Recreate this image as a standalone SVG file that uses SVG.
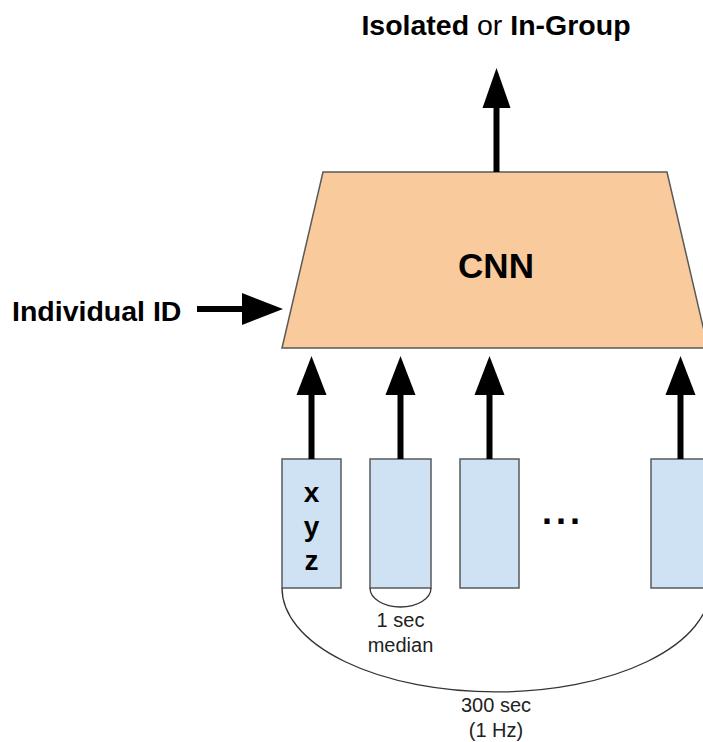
<svg xmlns="http://www.w3.org/2000/svg" width="703" height="742" viewBox="0 0 703 742">
<style>
  .t { font-family: "Liberation Sans", Arial, sans-serif; fill: #000; }
  .b { font-weight: bold; }
  .s { font-size: 20px; fill: #222; }
  .box { fill: #cfe2f3; stroke: #595959; stroke-width: 1.5; }
  .cnn { fill: #f9cb9c; stroke: #595959; stroke-width: 1.5; }
  .conn { stroke: #000; stroke-width: 6; fill: none; }
  .arc { stroke: #333; stroke-width: 1.3; fill: none; }
  .head { fill: #000; }
</style>
<rect width="703" height="742" fill="#fff"/>
<g id="output-label">
  <text class="t b" x="496" y="35" font-size="28.5" text-anchor="middle">Isolated <tspan font-weight="normal">or</tspan> In-Group</text>
</g>
<g id="cnn">
  <polygon class="cnn" points="323,172 667,172 708,348 282,348"/>
  <text class="t b" x="496" y="278" font-size="35" text-anchor="middle">CNN</text>
</g>
<g id="individual-id">
  <text class="t b" x="12" y="321" font-size="28.5">Individual ID</text>
</g>
<g id="input1">
  <rect class="box" x="282" y="459" width="59" height="129"/>
  <text class="t b" x="311.5" y="502" font-size="28" text-anchor="middle">x</text>
  <text class="t b" x="311.5" y="536" font-size="28" text-anchor="middle">y</text>
  <text class="t b" x="311.5" y="570" font-size="28" text-anchor="middle">z</text>
</g>
<g id="input2">
  <rect class="box" x="370" y="459" width="61" height="129"/>
</g>
<g id="input3">
  <rect class="box" x="460" y="459" width="59" height="129"/>
</g>
<g id="ellipsis">
  <text class="t b" x="563" y="524" font-size="36" letter-spacing="4" text-anchor="middle">...</text>
</g>
<g id="input4">
  <rect class="box" x="651" y="459" width="59" height="129"/>
</g>
<g id="annotations">
  <path class="arc" d="M370,588 A30.5,19 0 0 0 431,588"/>
  <path class="arc" d="M282,588 A214,104 0 0 0 710,588"/>
  <text class="t s" x="400.5" y="627" text-anchor="middle">1 sec</text>
  <text class="t s" x="400.5" y="652" text-anchor="middle">median</text>
  <text class="t s" x="496" y="712" text-anchor="middle">300 sec</text>
  <text class="t s" x="496" y="737" text-anchor="middle">(1 Hz)</text>
</g>
<g id="connectors">
  <line class="conn" x1="496.5" y1="172" x2="496.5" y2="106"/>
  <polygon class="head" points="496.5,68 482.5,108 510.5,108"/>
  <line class="conn" x1="197" y1="309" x2="244" y2="309"/>
  <polygon class="head" points="283,309 242,293 242,325"/>
  <line class="conn" x1="311.5" y1="459" x2="311.5" y2="393"/>
  <polygon class="head" points="311.5,356 296.5,395 326.5,395"/>
  <line class="conn" x1="400.5" y1="459" x2="400.5" y2="393"/>
  <polygon class="head" points="400.5,356 385.5,395 415.5,395"/>
  <line class="conn" x1="489.5" y1="459" x2="489.5" y2="393"/>
  <polygon class="head" points="489.5,356 474.5,395 504.5,395"/>
  <line class="conn" x1="680.5" y1="459" x2="680.5" y2="393"/>
  <polygon class="head" points="680.5,356 665.5,395 695.5,395"/>
</g>
</svg>
